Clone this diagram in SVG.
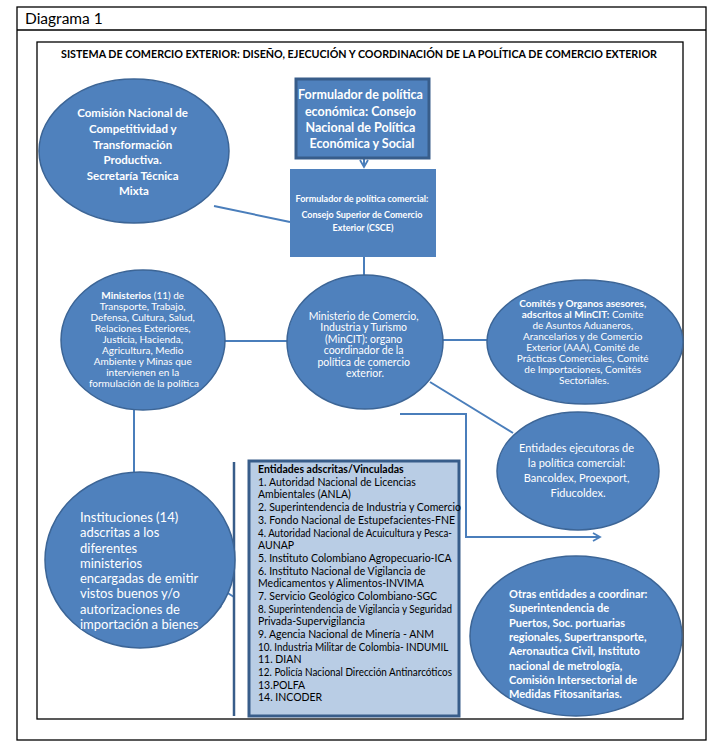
<svg xmlns="http://www.w3.org/2000/svg" width="719" height="752" viewBox="0 0 719 752">
<style>
.frame{fill:none;stroke:#000;stroke-width:1.3}
.ell{fill:#4f81bd;stroke:#3c6596;stroke-width:1.5}
.conn{fill:none;stroke:#4a7ebb;stroke-width:2}
.t{font-family:Lato,Carlito,"Liberation Sans",sans-serif;fill:#fff}
.b{font-weight:bold}
.k{font-family:Lato,Carlito,"Liberation Sans",sans-serif;fill:#000}
</style>
<defs>
<marker id="arr" markerWidth="10" markerHeight="10" refX="8" refY="5" orient="auto" markerUnits="userSpaceOnUse">
<path d="M1,1 L8,5 L1,9" fill="none" stroke="#4a7ebb" stroke-width="1.8"/>
</marker>
</defs>
<rect width="719" height="752" fill="#fff"/>
<g id="frame">
<rect class="frame" x="17" y="7" width="689" height="733"/>
<line class="frame" x1="17" y1="30" x2="706" y2="30"/>
<rect class="frame" x="37" y="42" width="646" height="677"/>
<text class="k" x="25" y="24" font-size="15.5">Diagrama 1</text>
<text class="k b" x="359" y="58" font-size="10.5" text-anchor="middle" textLength="596" lengthAdjust="spacingAndGlyphs">SISTEMA DE COMERCIO EXTERIOR: DISEÑO, EJECUCIÓN Y COORDINACIÓN DE LA POLÍTICA DE COMERCIO EXTERIOR</text>
</g>
<g id="connectors">
<line class="conn" x1="214" y1="206" x2="290" y2="222"/>
<line class="conn" x1="364" y1="158" x2="364" y2="167" marker-end="url(#arr)"/>
<line class="conn" x1="364" y1="257" x2="364" y2="276"/>
<line class="conn" x1="225" y1="341" x2="288" y2="341"/>
<line class="conn" x1="443" y1="340" x2="487" y2="340"/>
<line class="conn" x1="430" y1="382" x2="513" y2="433"/>
<line class="conn" x1="134" y1="410" x2="134" y2="472"/>
<polyline class="conn" points="400,414 466,414 466,537 600,537" marker-end="url(#arr)"/>
<polyline class="conn" points="220,608 226,592 234,597"/>
<line x1="234" y1="462" x2="234" y2="716" stroke="#385d8a" stroke-width="2.5"/>
</g>
<g id="n-comision">
<ellipse class="ell" cx="134" cy="151" rx="95" ry="72"/>
<text class="t b" font-size="11.5" text-anchor="middle">
<tspan x="134" y="117">Comisión Nacional de</tspan>
<tspan x="134" y="133">Competitividad y</tspan>
<tspan x="134" y="149">Transformación</tspan>
<tspan x="134" y="164">Productiva.</tspan>
<tspan x="134" y="180">Secretaría Técnica</tspan>
<tspan x="134" y="195">Mixta</tspan>
</text>
</g>
<g id="n-conpes">
<rect x="296" y="79" width="133" height="79" fill="#4f81bd" stroke="#385d8a" stroke-width="3"/>
<text class="t b" font-size="12.5" text-anchor="middle">
<tspan x="362" y="99">Formulador de política</tspan>
<tspan x="362" y="116">económica: Consejo</tspan>
<tspan x="362" y="132">Nacional de Política</tspan>
<tspan x="362" y="148">Económica y Social</tspan>
</text>
</g>
<g id="n-csce">
<rect x="290" y="169" width="146" height="88" fill="#4f81bd"/>
<text class="t b" font-size="9" text-anchor="middle">
<tspan x="363" y="202">Formulador de política comercial:</tspan>
<tspan x="363" y="218">Consejo Superior de Comercio</tspan>
<tspan x="363" y="231">Exterior (CSCE)</tspan>
</text>
</g>
<g id="n-ministerios">
<ellipse class="ell" cx="143" cy="340" rx="82" ry="70"/>
<text class="t" font-size="10" text-anchor="middle">
<tspan x="144" y="299"><tspan class="b">Ministerios</tspan>  (11) de</tspan>
<tspan x="144" y="310">Transporte, Trabajo,</tspan>
<tspan x="144" y="321">Defensa, Cultura, Salud,</tspan>
<tspan x="144" y="332">Relaciones Exteriores,</tspan>
<tspan x="144" y="343">Justicia,  Hacienda,</tspan>
<tspan x="144" y="354">Agricultura, Medio</tspan>
<tspan x="144" y="365">Ambiente y Minas que</tspan>
<tspan x="144" y="376">intervienen en la</tspan>
<tspan x="144" y="387">formulación de la política</tspan>
</text>
</g>
<g id="n-mincit">
<ellipse class="ell" cx="365" cy="342" rx="78" ry="67"/>
<text class="t" font-size="10.5" text-anchor="middle">
<tspan x="365" y="320">Ministerio de Comercio,</tspan>
<tspan x="365" y="331">Industria y Turismo</tspan>
<tspan x="365" y="343">(MinCIT): organo</tspan>
<tspan x="365" y="354">coordinador  de la</tspan>
<tspan x="365" y="366">política de comercio</tspan>
<tspan x="365" y="377">exterior.</tspan>
</text>
</g>
<g id="n-comites">
<ellipse class="ell" cx="585" cy="342" rx="98" ry="62"/>
<text class="t" font-size="10" text-anchor="middle">
<tspan x="584" y="307" class="b">Comités y Organos asesores,</tspan>
<tspan x="584" y="318"><tspan class="b">adscritos al MinCIT:</tspan> Comite</tspan>
<tspan x="584" y="329">de Asuntos Aduaneros,</tspan>
<tspan x="584" y="340">Arancelarios y de Comercio</tspan>
<tspan x="584" y="351">Exterior  (AAA), Comité de</tspan>
<tspan x="584" y="362">Prácticas Comerciales, Comité</tspan>
<tspan x="584" y="373">de Importaciones, Comités</tspan>
<tspan x="584" y="384">Sectoriales.</tspan>
</text>
</g>
<g id="n-ejecutoras">
<ellipse class="ell" cx="578" cy="471" rx="81" ry="59"/>
<text class="t" font-size="11" text-anchor="middle">
<tspan x="578" y="452">Entidades ejecutoras de</tspan>
<tspan x="578" y="467">la política comercial:</tspan>
<tspan x="578" y="482">Bancoldex, Proexport,</tspan>
<tspan x="578" y="497">Fiducoldex.</tspan>
</text>
</g>
<g id="n-instituciones">
<ellipse class="ell" cx="140" cy="560" rx="95" ry="88"/>
<text class="t" font-size="13">
<tspan x="80" y="522">Instituciones (14)</tspan>
<tspan x="80" y="537">adscritas a los</tspan>
<tspan x="80" y="553">diferentes</tspan>
<tspan x="80" y="568">ministerios</tspan>
<tspan x="80" y="583">encargadas de emitir</tspan>
<tspan x="80" y="598">vistos buenos y/o</tspan>
<tspan x="80" y="614">autorizaciones de</tspan>
<tspan x="80" y="629">importación a bienes</tspan>
</text>
</g>
<g id="n-entidades">
<rect x="249" y="461" width="210" height="255" fill="#b9cde5" stroke="#385d8a" stroke-width="3"/>
<text class="k" font-size="10.5">
<tspan x="258" y="473" class="b">Entidades adscritas/Vinculadas</tspan>
<tspan x="258" y="486">1. Autoridad Nacional de Licencias</tspan>
<tspan x="258" y="498">Ambientales (ANLA)</tspan>
<tspan x="258" y="511">2. Superintendencia de Industria y Comercio</tspan>
<tspan x="258" y="524">3. Fondo Nacional de Estupefacientes-FNE</tspan>
<tspan x="258" y="537" textLength="194" lengthAdjust="spacingAndGlyphs">4. Autoridad Nacional de Acuicultura y Pesca-</tspan>
<tspan x="258" y="549">AUNAP</tspan>
<tspan x="258" y="562">5. Instituto Colombiano Agropecuario-ICA</tspan>
<tspan x="258" y="575">6. Instituto Nacional de Vigilancia de</tspan>
<tspan x="258" y="587">Medicamentos y Alimentos-INVIMA</tspan>
<tspan x="258" y="600">7. Servicio Geológico Colombiano-SGC</tspan>
<tspan x="258" y="613" textLength="194" lengthAdjust="spacingAndGlyphs">8. Superintendencia de Vigilancia y Seguridad</tspan>
<tspan x="258" y="625">Privada-Supervigilancia</tspan>
<tspan x="258" y="638">9. Agencia Nacional de Minería - ANM</tspan>
<tspan x="258" y="651" textLength="190" lengthAdjust="spacingAndGlyphs">10. Industria Militar de Colombia- INDUMIL</tspan>
<tspan x="258" y="663">11. DIAN</tspan>
<tspan x="258" y="676" textLength="194" lengthAdjust="spacingAndGlyphs">12. Policía Nacional Dirección Antinarcóticos</tspan>
<tspan x="258" y="689">13.POLFA</tspan>
<tspan x="258" y="701">14. INCODER</tspan>
</text>
</g>
<g id="n-otras">
<ellipse class="ell" cx="576" cy="636" rx="106" ry="80"/>
<text class="t b" font-size="11">
<tspan x="509" y="598">Otras entidades a coordinar:</tspan>
<tspan x="509" y="612">Superintendencia de</tspan>
<tspan x="509" y="627">Puertos, Soc. portuarias</tspan>
<tspan x="509" y="641">regionales, Supertransporte,</tspan>
<tspan x="509" y="655">Aeronautica Civil, Instituto</tspan>
<tspan x="509" y="670">nacional de metrología,</tspan>
<tspan x="509" y="684">Comisión Intersectorial de</tspan>
<tspan x="509" y="698">Medidas Fitosanitarias.</tspan>
</text>
</g>
</svg>
